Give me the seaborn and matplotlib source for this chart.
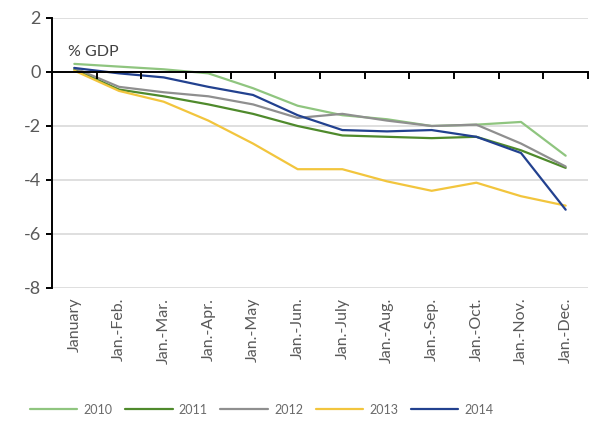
"""Cumulative budget balance by month, 2010-2014 (% GDP)."""

import matplotlib.pyplot as plt
import numpy as np
import pandas as pd
import seaborn as sns

months = [
    "January", "Jan.-Feb.", "Jan.-Mar.", "Jan.-Apr.", "Jan.-May", "Jan.-Jun.",
    "Jan.-July", "Jan.-Aug.", "Jan.-Sep.", "Jan.-Oct.", "Jan.-Nov.", "Jan.-Dec.",
]
years = ["2010", "2011", "2012", "2013", "2014"]

bal_2010 = [0.3, 0.2, 0.1, -0.05, -0.6, -1.25, -1.6, -1.75, -2.0, -1.95, -1.85, -3.1]
bal_2011 = [0.1, -0.65, -0.9, -1.2, -1.55, -2.0, -2.35, -2.4, -2.45, -2.4, -2.9, -3.55]
bal_2012 = [0.15, -0.55, -0.75, -0.9, -1.2, -1.7, -1.55, -1.8, -2.0, -1.95, -2.65, -3.5]
bal_2013 = [0.05, -0.7, -1.1, -1.8, -2.65, -3.6, -3.6, -4.05, -4.4, -4.1, -4.6, -4.95]
bal_2014 = [0.15, -0.05, -0.2, -0.55, -0.85, -1.6, -2.15, -2.2, -2.15, -2.4, -3.0, -5.1]

colors = {
    "2010": "#8fc57f",
    "2011": "#4f8a2c",
    "2012": "#8f8f8f",
    "2013": "#f2c53d",
    "2014": "#22418f",
}

series = [bal_2010, bal_2011, bal_2012, bal_2013, bal_2014]
df = pd.concat(
    [pd.DataFrame({"pos": np.arange(len(months)), "value": vals, "year": yr}) for yr, vals in zip(years, series)],
    ignore_index=True,
)

sns.set_theme(style="white")
plt.rcParams["font.family"] = ["Lato", "DejaVu Sans"]

fig = plt.figure(figsize=(5.91, 4.30), dpi=100)
ax = fig.add_axes([52 / 591, 1 - 288 / 430, 536 / 591, 270 / 430])

sns.lineplot(data=df, x="pos", y="value", hue="year", palette=colors, linewidth=1.6, ax=ax, legend=True)

ax.set_xlim(-0.5, len(months) - 0.5)
ax.set_ylim(-8, 2)
ax.set_yticks([2, 0, -2, -4, -6, -8])
ax.set_yticklabels(["2", "0", "-2", "-4", "-6", "-8"], fontsize=13, color="#595959")
for y in [2, -2, -4, -6, -8]:
    ax.axhline(y, color="#d9d9d9", linewidth=1.2, zorder=0)

ax.set_xticks(np.arange(len(months)))
ax.set_xticklabels(months, rotation=90, fontsize=11.5, color="#595959", va="top", ha="center")
ax.tick_params(axis="x", length=0, pad=7)
ax.tick_params(axis="y", left=True, length=4, width=1.4, color="black", pad=4)

for side in ["top", "right", "bottom"]:
    ax.spines[side].set_visible(False)
ax.spines["left"].set_color("black")
ax.spines["left"].set_linewidth(1.4)

# zero line with category boundary ticks hanging below it
zero_ax = ax.twiny()
zero_ax.set_xlim(ax.get_xlim())
for side in ["top", "right", "left"]:
    zero_ax.spines[side].set_visible(False)
zero_ax.spines["bottom"].set_position(("data", 0))
zero_ax.spines["bottom"].set_color("black")
zero_ax.spines["bottom"].set_linewidth(1.4)
zero_ax.xaxis.set_ticks_position("bottom")
zero_ax.set_xticks(np.arange(len(months) + 1) - 0.5)
zero_ax.set_xticklabels([])
zero_ax.tick_params(axis="x", bottom=True, top=False, direction="out", length=5, width=1.4, color="black")

ax.set_xlabel("")
ax.set_ylabel("")
ax.text(0.03, 0.874, "% GDP", transform=ax.transAxes, fontsize=11.5, color="#404040", va="center")

handles, labels = ax.get_legend_handles_labels()
ax.legend_.remove()
fig.legend(
    handles, labels, loc="center", bbox_to_anchor=(0.443, 0.047), ncol=5, frameon=False,
    fontsize=9, handlelength=3.8, handletextpad=0.5, columnspacing=1.0, labelcolor="#6a6a6a",
)

fig.savefig("out.png", dpi=100)
